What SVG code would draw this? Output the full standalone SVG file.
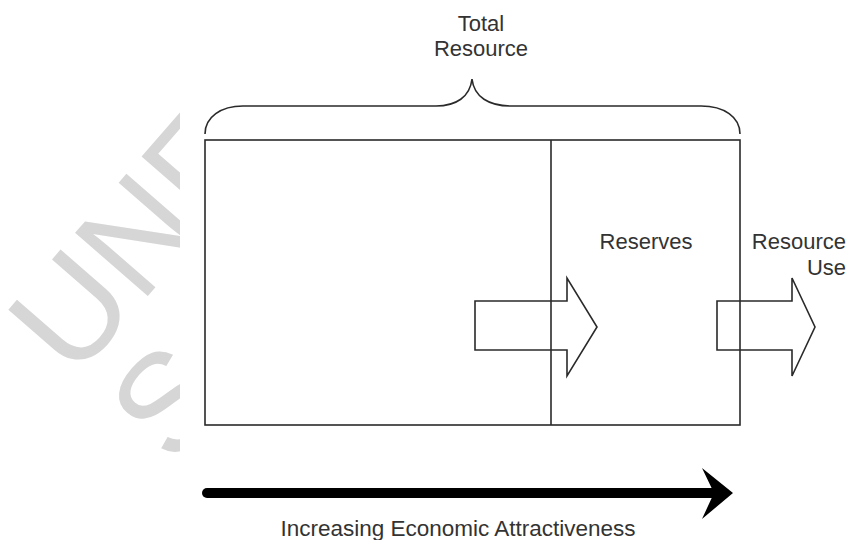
<svg xmlns="http://www.w3.org/2000/svg" width="852" height="540" viewBox="0 0 852 540">
  <defs>
    <style>
      .lbl { font-family: "Liberation Sans", Arial, sans-serif; font-size: 22px; fill: #333; }
      .ln { fill: none; stroke: #2a2a2a; stroke-width: 1.6; }
      .blk { fill: none; stroke: #2a2a2a; stroke-width: 1.6; stroke-linejoin: miter; }
      .wm { font-family: "Liberation Sans", Arial, sans-serif; font-size: 140px; fill: #d6d6d6; }
    </style>
    <clipPath id="wmclip">
      <rect x="0" y="0" width="180" height="540"/>
      <rect x="0" y="0" width="852" height="7"/>
    </clipPath>
  </defs>
  <rect width="852" height="540" fill="#fff"/>

  <g id="watermark" clip-path="url(#wmclip)">
    <g transform="translate(74,381) rotate(-49)">
      <text class="wm" x="0" y="0">UNE</text>
      <text class="wm" x="0" y="133">S</text>
    </g>
  </g>

  <g id="total-resource">
    <path class="ln" d="M205,134 C205,117 221,106 243,106 L436,106 C456,106 470,97 472,79 C474,97 489,106 511,106 L701,106 C724,106 740,117 740,134"/>
    <text class="lbl" x="481" y="31" text-anchor="middle">Total</text>
    <text class="lbl" x="481" y="56" text-anchor="middle">Resource</text>
  </g>

  <g id="resource-box">
    <rect class="ln" x="205" y="140" width="535" height="285"/>
  </g>

  <g id="reserves">
    <line class="ln" x1="551" y1="140" x2="551" y2="425"/>
    <text class="lbl" x="646" y="249" text-anchor="middle">Reserves</text>
  </g>

  <g id="resource-use">
    <text class="lbl" x="846" y="248.5" text-anchor="end">Resource</text>
    <text class="lbl" x="846" y="275" text-anchor="end">Use</text>
  </g>

  <g id="connectors">
    <polygon class="blk" points="475,301 567,301 567,278 597,327 567,376 567,350 475,350"/>
    <polygon class="blk" points="717,301 792,301 792,278 815,327 792,376 792,350 717,350"/>
    <line x1="207" y1="493" x2="716" y2="493" stroke="#000" stroke-width="10" stroke-linecap="round"/>
    <polygon points="702,468 733,493 702,519 714,493" fill="#000"/>
  </g>

  <g id="axis-label">
    <text class="lbl" x="458" y="536" text-anchor="middle" style="font-size:22.5px">Increasing Economic Attractiveness</text>
  </g>
</svg>
